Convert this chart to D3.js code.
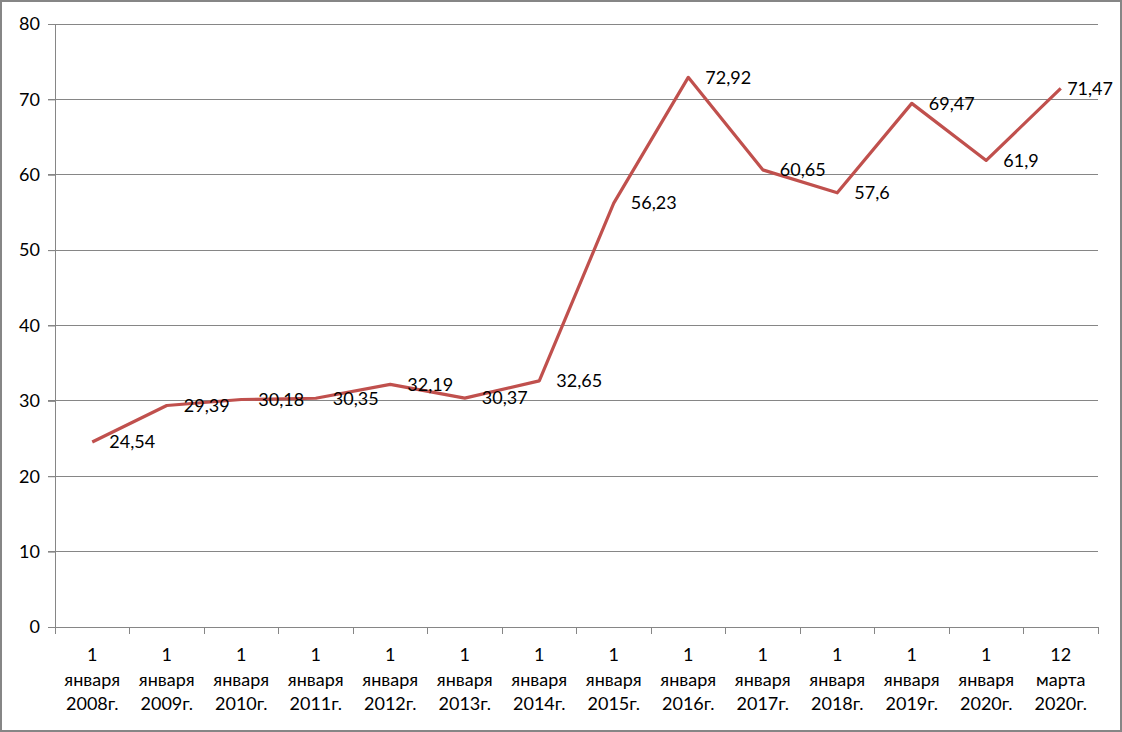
<!DOCTYPE html>
<html><head><meta charset="utf-8">
<script src="https://cdn.jsdelivr.net/npm/d3@7"></script>
<style>html,body{margin:0;padding:0;background:#fff}svg{display:block}</style>
</head><body>
<svg id="c" width="1122" height="732"></svg>
<script>
const categories = [
  ["1","января","2008г."],["1","января","2009г."],["1","января","2010г."],["1","января","2011г."],
  ["1","января","2012г."],["1","января","2013г."],["1","января","2014г."],["1","января","2015г."],
  ["1","января","2016г."],["1","января","2017г."],["1","января","2018г."],["1","января","2019г."],
  ["1","января","2020г."],["12","марта","2020г."]
];
const values = [24.54,29.39,30.18,30.35,32.19,30.37,32.65,56.23,72.92,60.65,57.6,69.47,61.9,71.47];
const valueLabels = ["24,54","29,39","30,18","30,35","32,19","30,37","32,65","56,23","72,92","60,65","57,6","69,47","61,9","71,47"];
const yTicks = [0,10,20,30,40,50,60,70,80];

const svg = d3.select("#c");
const W = 1122, H = 732;
const m = {left:55, right:1098, top:24, bottom:627};
const font = "Lato, 'Open Sans', sans-serif";

svg.append("rect").attr("x",1).attr("y",1).attr("width",W-2).attr("height",H-2)
  .attr("fill","#fff").attr("stroke","#868686").attr("stroke-width",2);

const x = d3.scaleBand().domain(d3.range(categories.length)).range([m.left,m.right]);
const y = d3.scaleLinear().domain([0,80]).range([m.bottom,m.top]);

// gridlines
svg.append("g").selectAll("line").data(yTicks).join("line")
  .attr("x1",48).attr("x2",m.right)
  .attr("y1",d=>y(d)).attr("y2",d=>y(d))
  .attr("stroke","#868686").attr("stroke-width",1).attr("shape-rendering","crispEdges");

// y axis
const yAxis = svg.append("g").attr("transform",`translate(${m.left},0)`)
  .call(d3.axisLeft(y).tickValues(yTicks).tickSize(7).tickPadding(8));
yAxis.select(".domain").attr("stroke","#868686");
yAxis.selectAll(".tick line").attr("stroke","#868686");
yAxis.selectAll("text").attr("font-family",font).attr("font-size",18).attr("fill","#000");

// x axis
const xg = svg.append("g").attr("transform",`translate(0,${m.bottom})`);
xg.append("line").attr("x1",m.left).attr("x2",m.right).attr("y1",0).attr("y2",0)
  .attr("stroke","#868686").attr("shape-rendering","crispEdges");
const bounds = d3.range(categories.length+1).map(i => i<categories.length ? x(i) : x(categories.length-1)+x.bandwidth());
xg.selectAll("line.t").data(bounds).join("line").attr("class","t")
  .attr("x1",d=>d).attr("x2",d=>d).attr("y1",0).attr("y2",7)
  .attr("stroke","#868686").attr("shape-rendering","crispEdges");
const lbl = xg.selectAll("text.c").data(categories).join("text").attr("class","c")
  .attr("text-anchor","middle").attr("font-family",font).attr("font-size",18).attr("fill","#000");
lbl.each(function(d,i){
  const t = d3.select(this);
  d.forEach((s,j)=>{
    t.append("tspan").attr("x",x(i)+x.bandwidth()/2).attr("y",34+j*24.5).text(s);
  });
});

// line
const line = d3.line().x((d,i)=>x(i)+x.bandwidth()/2).y(d=>y(d));
svg.append("path").datum(values).attr("d",line)
  .attr("fill","none").attr("stroke","#C0504D").attr("stroke-width",3.2).attr("stroke-linejoin","round");

// data labels
svg.append("g").selectAll("text").data(values).join("text")
  .attr("y",d=>y(d))
  .attr("dy","0.35em").attr("font-family",font).attr("font-size",18).attr("fill","#000")
  .text((d,i)=>valueLabels[i])
  .each(function(d,i){
    const w = this.getComputedTextLength();
    let lx = x(i)+x.bandwidth()/2+17;
    if (lx + w > W - 9) lx = W - 9 - w;
    d3.select(this).attr("x", lx);
  });
</script>
</body></html>
